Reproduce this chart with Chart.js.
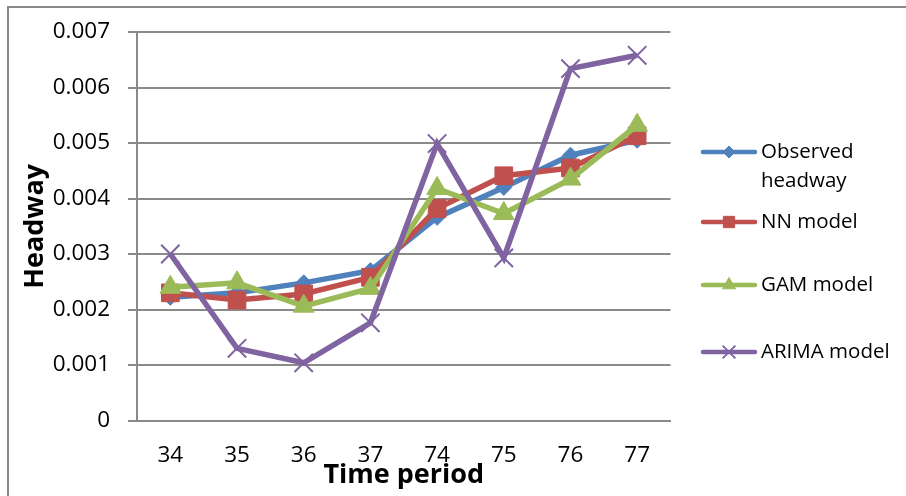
<!DOCTYPE html>
<html>
<head>
<meta charset="utf-8">
<script src="https://cdn.jsdelivr.net/npm/chart.js@4/dist/chart.umd.min.js"></script>
<style>
html,body{margin:0;padding:0;background:#fff;}
#wrap{width:906px;height:496px;position:relative;}
</style>
</head>
<body>
<div id="wrap"><canvas id="c" width="906" height="496"></canvas></div>
<script>
const categories = ['34','35','36','37','74','75','76','77'];
const seriesNames = ['Observed headway','NN model','GAM model','ARIMA model'];
const observed = [0.00222, 0.00230, 0.00248, 0.00270, 0.00366, 0.00420, 0.00478, 0.00505];
const nnModel  = [0.00230, 0.00217, 0.00228, 0.00258, 0.00382, 0.00441, 0.00455, 0.00513];
const gamModel = [0.00240, 0.00248, 0.00206, 0.00238, 0.00418, 0.00373, 0.00435, 0.00532];
const arimaModel = [0.00300, 0.00130, 0.00104, 0.00176, 0.00499, 0.00293, 0.00634, 0.00658];
const yTicks = [0, 0.001, 0.002, 0.003, 0.004, 0.005, 0.006, 0.007];
const xTitle = 'Time period';
const yTitle = 'Headway';

const FONT = "'Open Sans', 'DejaVu Sans', sans-serif";
const GRID = '#8a8a8a';

function ds(label, data, color, style, radius, bw, order) {
  return {
    label, data,
    borderColor: color, backgroundColor: color,
    borderWidth: 5.5,
    pointStyle: style, pointRadius: radius, pointHoverRadius: radius,
    pointBackgroundColor: color, pointBorderColor: color,
    pointBorderWidth: bw,
    tension: 0, fill: false, order
  };
}

const legendPlugin = {
  id: 'sideLegend',
  afterDraw(chart) {
    const ctx = chart.ctx;
    const rows = [152, 222, 285, 352];
    const sizes = [6, 8, 7.5, 9];
    ctx.save();
    chart.data.datasets.forEach((d, i) => {
      const y = rows[i];
      ctx.strokeStyle = d.borderColor;
      ctx.lineWidth = 4.5;
      ctx.lineCap = 'round';
      ctx.beginPath(); ctx.moveTo(703, y); ctx.lineTo(755, y); ctx.stroke();
      const opts = {pointStyle: d.pointStyle, radius: sizes[i], rotation: 0, borderWidth: d.pointBorderWidth};
      ctx.fillStyle = d.backgroundColor; ctx.strokeStyle = d.borderColor;
      ctx.lineWidth = d.pointBorderWidth; ctx.lineCap = 'butt';
      Chart.helpers.drawPoint(ctx, opts, 729, y);
      ctx.fillStyle = '#000';
      ctx.font = '20.5px ' + FONT;
      ctx.textBaseline = 'middle';
      ctx.textAlign = 'left';
      const words = d.label.split(' ');
      const lines = []; let cur = '';
      words.forEach(w => {
        const t = cur ? cur + ' ' + w : w;
        if (ctx.measureText(t).width > 132 && cur) { lines.push(cur); cur = w; } else cur = t;
      });
      lines.push(cur);
      lines.forEach((l, k) => ctx.fillText(l, 761, y + k * 29));
    });
    ctx.restore();
  }
};

const framePlugin = {
  id: 'frame',
  beforeDraw(chart) {
    const ctx = chart.ctx;
    ctx.save();
    ctx.fillStyle = '#fff';
    ctx.fillRect(0, 0, chart.width, chart.height);
    ctx.strokeStyle = GRID;
    ctx.lineWidth = 2;
    ctx.beginPath();
    ctx.moveTo(8, 600); ctx.lineTo(8, 7); ctx.lineTo(920, 7);
    ctx.stroke();
    ctx.restore();
  }
};

new Chart(document.getElementById('c'), {
  type: 'line',
  data: {
    labels: categories,
    datasets: [
      ds(seriesNames[0], observed, '#4F81BD', 'rectRot', 8, 1, 4),
      ds(seriesNames[1], nnModel, '#C0504D', 'rect', 12.5, 1, 3),
      ds(seriesNames[2], gamModel, '#9BBB59', 'triangle', 12, 1, 2),
      ds(seriesNames[3], arimaModel, '#8064A2', 'crossRot', 13, 2, 1)
    ]
  },
  options: {
    responsive: false,
    animation: false,
    devicePixelRatio: 1,
    layout: {padding: {top: 32, right: 235.5, bottom: 0, left: 0}},
    plugins: {legend: {display: false}, tooltip: {enabled: false}},
    scales: {
      x: {
        offset: true,
        grid: {display: false, drawTicks: false},
        border: {display: true, color: GRID, width: 2},
        ticks: {color: '#000', font: {family: FONT, size: 22.5}, padding: 22, maxRotation: 0, autoSkip: false},
        title: {display: true, text: xTitle, color: '#000', font: {family: FONT, size: 27, weight: 'bold'}, padding: {top: 0, bottom: 4}},
        afterFit(s) { s.height = 75.5; }
      },
      y: {
        min: 0, max: 0.007,
        afterBuildTicks(s) { s.ticks = yTicks.map(v => ({value: v})); },
        grid: {color: GRID, lineWidth: 2, tickLength: 9, drawTicks: true},
        border: {display: true, color: GRID, width: 2},
        ticks: {color: '#000', font: {family: FONT, size: 22.5}, padding: 18,
          callback: v => v === 0 ? '0' : v.toFixed(3)},
        title: {display: true, text: yTitle, color: '#000', font: {family: FONT, size: 27, weight: 'bold'}, padding: {top: 19, bottom: 0}},
        afterFit(s) { s.width = 137; }
      }
    }
  },
  plugins: [framePlugin, legendPlugin]
});
</script>
</body>
</html>
